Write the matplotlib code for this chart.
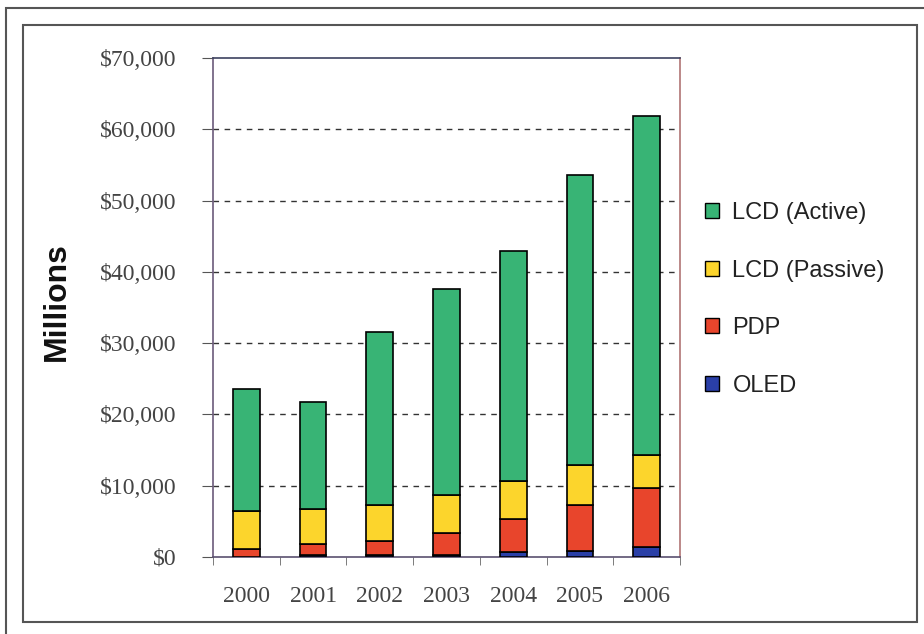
import matplotlib
matplotlib.use("Agg")
import matplotlib.pyplot as plt
from matplotlib.patches import Rectangle, Patch
from matplotlib.ticker import FuncFormatter, FixedLocator
import numpy as np

years = ["2000", "2001", "2002", "2003", "2004", "2005", "2006"]
oled = [0, 300, 250, 300, 650, 900, 1350]
pdp = [1100, 1500, 2050, 3050, 4650, 6450, 8350]
lcd_passive = [5400, 5000, 5000, 5350, 5300, 5500, 4600]
lcd_active = [17000, 14900, 24200, 28900, 32300, 40750, 47600]

series = [
    ("OLED", oled, "#2a3fa8"),
    ("PDP", pdp, "#e8452c"),
    ("LCD (Passive)", lcd_passive, "#fcd52c"),
    ("LCD (Active)", lcd_active, "#38b475"),
]

fig = plt.figure(figsize=(9.24, 6.34), dpi=100)
fig.patch.set_facecolor("white")

# double frame around the chart
fig.patches.append(Rectangle((6 / 924, 1 - 640 / 634), 930 / 924, 632 / 634,
                             transform=fig.transFigure, fill=False,
                             edgecolor="#555555", lw=1.5))
fig.patches.append(Rectangle((23 / 924, 1 - 622 / 634), 894 / 924, 597 / 634,
                             transform=fig.transFigure, fill=False,
                             edgecolor="#555555", lw=1.5))

ax = fig.add_axes([213 / 924, 1 - 557 / 634, 467 / 924, 499 / 634])
x = np.arange(len(years))
bottom = np.zeros(len(years))
handles = {}
for name, vals, color in series:
    v = np.array(vals, dtype=float)
    ax.bar(x, v, width=0.4, bottom=bottom, color=color, edgecolor="black",
           linewidth=1.2, zorder=3)
    bottom += v
    handles[name] = Patch(facecolor=color, edgecolor="black", linewidth=1.0)

ax.set_xlim(-0.5, len(years) - 0.5)
ax.set_ylim(0, 70000)
ax.set_yticks(np.arange(0, 70001, 10000))
ax.yaxis.set_major_formatter(FuncFormatter(lambda v, p: "${:,.0f}".format(v)))
ax.set_xticks(x)
ax.set_xticklabels(years)
ax.xaxis.set_minor_locator(FixedLocator(np.arange(-0.5, len(years), 1.0)))

for yv in range(10000, 70000, 10000):
    ax.axhline(yv, color="#333333", lw=1.0, ls=(0, (4, 4)), zorder=1)

ax.tick_params(axis="x", which="major", length=0, pad=21,
               labelsize=17, labelcolor="#444444")
ax.tick_params(axis="x", which="minor", length=6, color="#666666", direction="out")
ax.tick_params(axis="y", length=8, color="#555555", direction="out", pad=18,
               labelsize=17, labelcolor="#444444")
for lab in ax.get_xticklabels() + ax.get_yticklabels():
    lab.set_fontfamily("Liberation Serif")

ax.spines["left"].set_color("#6b5a7a")
ax.spines["right"].set_color("#b07474")
ax.spines["top"].set_color("#3d4260")
ax.spines["bottom"].set_color("#5a5070")
for s in ax.spines.values():
    s.set_linewidth(1.2)

fig.text(57 / 924, 1 - 302 / 634, "Millions", rotation=90, ha="center",
         va="center", fontsize=23, fontweight="bold",
         fontfamily="Liberation Sans", color="#111111")

order = ["LCD (Active)", "LCD (Passive)", "PDP", "OLED"]
leg = fig.legend([handles[n] for n in order], order,
                 loc="upper left", bbox_to_anchor=(684 / 924, 1 - 181 / 634),
                 frameon=False, handlelength=0.6, handleheight=0.6,
                 handletextpad=0.55, labelspacing=1.5,
                 prop={"family": "Liberation Sans", "size": 17})
for t in leg.get_texts():
    t.set_color("#222222")

fig.savefig("out.png", dpi=100, facecolor="white")
